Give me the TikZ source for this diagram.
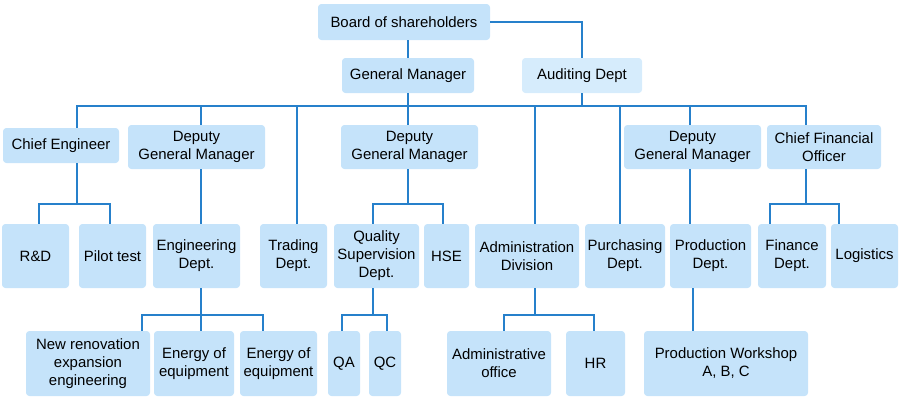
\documentclass[tikz,border=0pt]{standalone}
\usepackage{fontspec}
\setmainfont{Liberation Sans}
\usetikzlibrary{calc}
\definecolor{boxblue}{RGB}{197,227,250}
\definecolor{auditblue}{RGB}{214,236,252}
\definecolor{linkblue}{RGB}{38,128,203}

\begin{document}
\begin{tikzpicture}[
  x=0.75pt, y=-0.75pt,
  box/.style 2 args={rectangle, fill=boxblue, rounded corners=2.5pt, align=center, inner sep=0pt,
    minimum width=#1*0.75pt, minimum height=#2*0.75pt, font=\fontsize{11.2}{13.5}\selectfont},
  auditbox/.style 2 args={box={#1}{#2}, fill=auditblue},
  link/.style={draw=linkblue, line width=1.5pt}
]
  \useasboundingbox (0,0) rectangle (902,404);

  \node[box={172}{36}] (board) at (404,22) {Board of shareholders};
  \node[box={132}{35}] (gm) at (408,75.5) {General Manager};
  \node[auditbox={120}{35}] (audit) at (582,75.5) {Auditing Dept};

  \node[box={116}{35}] (ce) at (61,145.5) {Chief Engineer};
  \node[box={137}{44}] (dgm1) at (196.5,147) {Deputy\\General Manager};
  \node[box={137}{44}] (dgm2) at (409.5,147) {Deputy\\General Manager};
  \node[box={137}{44}] (dgm3) at (692.5,147) {Deputy\\General Manager};
  \node[box={114}{44}] (cfo) at (824,147) {Chief Financial\\Officer};

  \node[box={67}{64}] (rd) at (35.5,256) {R\&D};
  \node[box={67}{64}] (pilot) at (112.5,256) {Pilot test};
  \node[box={87}{64}] (eng) at (196.5,256) {Engineering\\Dept.};
  \node[box={67}{64}] (trade) at (293.5,256) {Trading\\Dept.};
  \node[box={85}{64}] (qual) at (376.5,256) {Quality\\Supervision\\Dept.};
  \node[box={45}{64}] (hse) at (446.5,256) {HSE};
  \node[box={104}{64}] (admin) at (527,256) {Administration\\Division};
  \node[box={80}{64}] (purch) at (625,256) {Purchasing\\Dept.};
  \node[box={81}{64}] (prod) at (710.5,256) {Production\\Dept.};
  \node[box={68}{64}] (fin) at (792,256) {Finance\\Dept.};
  \node[box={67}{64}] (logi) at (864.5,256) {Logistics};

  \node[box={124}{65}] (renov) at (88,363.5) {New renovation\\expansion\\engineering};
  \node[box={80}{65}] (en1) at (194,363.5) {Energy of\\equipment};
  \node[box={77}{65}] (en2) at (278.5,363.5) {Energy of\\equipment};
  \node[box={32}{65}] (qa) at (344,363.5) {QA};
  \node[box={32}{65}] (qc) at (385,363.5) {QC};
  \node[box={104}{65}] (office) at (499,363.5) {Administrative\\office};
  \node[box={59}{65}] (hr) at (595.5,363.5) {HR};
  \node[box={164}{65}] (shop) at (726,363.5) {Production Workshop\\A, B, C};

  \draw[link] (gm.north) -- (gm.north |- board.south);
  \draw[link] (board.east) -| (audit.north);
  \draw[link] (gm.south) -- ++(0,12.5) coordinate (bus);
  \draw[link] (audit.south) -- (audit.south |- bus);
  \draw[link] ($(ce.north)+(16,0)$) |- (bus) -| ($(cfo.north)+(-18,0)$);
  \draw[link] ($(dgm1.north)+(4.5,0)$) coordinate (t1) -- (t1 |- bus);
  \draw[link] ($(trade.north)+(3.5,0)$) coordinate (t2) -- (t2 |- bus);
  \draw[link] ($(dgm2.north)+(-1.5,0)$) -- (bus);
  \draw[link] ($(admin.north)+(8,0)$) coordinate (t3) -- (t3 |- bus);
  \draw[link] ($(purch.north)+(-5,0)$) coordinate (t4) -- (t4 |- bus);
  \draw[link] ($(dgm3.north)+(-2.5,0)$) coordinate (t5) -- (t5 |- bus);

  \draw[link] ($(ce.south)+(16,0)$) -- ++(0,41) coordinate (ceJ);
  \draw[link] ($(rd.north)+(3.5,0)$) |- (ceJ) -| ($(pilot.north)+(-2.5,0)$);
  \draw[link] ($(dgm1.south)+(4.5,0)$) -- ($(eng.north)+(4.5,0)$);
  \draw[link] ($(dgm2.south)+(-1.5,0)$) -- ++(0,35) coordinate (dgm2J);
  \draw[link] ($(qual.north)+(-3.5,0)$) |- (dgm2J) -| ($(hse.north)+(-3.5,0)$);
  \draw[link] ($(dgm3.south)+(-2.5,0)$) -- ($(prod.north)+(-20.5,0)$);
  \draw[link] ($(cfo.south)+(-18,0)$) -- ++(0,35) coordinate (cfoJ);
  \draw[link] ($(fin.north)+(-22,0)$) |- (cfoJ) -| ($(logi.north)+(-25.5,0)$);

  \draw[link] ($(eng.south)+(4.5,0)$) -- ++(0,27) coordinate (engJ);
  \draw[link] ($(renov.north)+(54,0)$) |- (engJ) -| ($(en2.north)+(-15.5,0)$);
  \draw[link] (engJ) -- ($(en1.north)+(7,0)$);
  \draw[link] ($(qual.south)+(-3.5,0)$) -- ++(0,27) coordinate (qualJ);
  \draw[link] ($(qa.north)+(-2,0)$) |- (qualJ) -| ($(qc.north)+(2,0)$);
  \draw[link] ($(admin.south)+(8,0)$) -- ++(0,27) coordinate (adminJ);
  \draw[link] ($(office.north)+(5,0)$) |- (adminJ) -| ($(hr.north)+(-1.5,0)$);
  \draw[link] ($(prod.south)+(-17.5,0)$) -- ($(shop.north)+(-33,0)$);
\end{tikzpicture}
\end{document}
